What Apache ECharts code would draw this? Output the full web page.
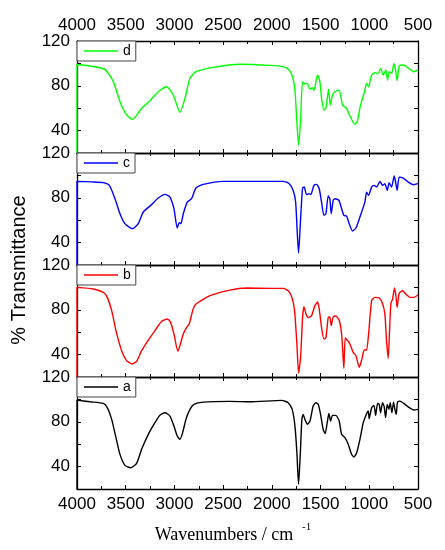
<!DOCTYPE html>
<html>
<head>
<meta charset="utf-8">
<script src="https://cdn.jsdelivr.net/npm/echarts@6/dist/echarts.min.js"></script>
<style>
  html, body { margin: 0; padding: 0; background: #fff; }
  #chart { width: 445px; height: 550px; }
</style>
</head>
<body>
<div id="chart"></div>
<script>
// spectra as [wavenumber, %T]
const specD = [[4000,20],[4000,99],[3850,97.5],[3713,94.7],[3627,83.7],[3559,65.8],[3490,54],[3429,50],[3336,59.9],[3251,66.7],[3166,74.7],[3080,79.2],[3012,71.8],[2943,56.3],[2892,68.8],[2841,86.7],[2779,92.6],[2601,96.5],[2328,99.2],[2020,98.2],[1883,97.1],[1822,94.1],[1787,88.1],[1763,76],[1745,50],[1726,27],[1705,49.5],[1685,83.7],[1661,81.6],[1637,82.2],[1609,76.9],[1586,78.3],[1568,76],[1531,89.6],[1507,83.7],[1490,68.8],[1466,58.4],[1445,59.9],[1418,76.9],[1401,62.9],[1377,71.8],[1353,74.7],[1309,76],[1274,62.9],[1233,59.9],[1199,53],[1148,45.6],[1124,48],[1089,62.9],[1045,76],[1028,82.2],[1007,79.2],[976,89.6],[942,91.7],[908,91.1],[884,95.6],[857,89.6],[830,94.1],[812,85.2],[796,92.6],[771,91.1],[747,100],[730,94.1],[714,84.6],[693,97.7],[652,98.6],[583,94.7],[549,92.6],[500,94.1]];

const specC = [[4000,20],[4000,94.7],[3850,94.2],[3730,93.5],[3668,91.1],[3610,79.2],[3559,65.8],[3508,56.9],[3433,52.4],[3371,56.9],[3320,67.3],[3234,73.9],[3166,79.8],[3097,83.1],[3046,80.7],[3005,70.3],[2971,53],[2950,57.8],[2933,56.9],[2909,65.8],[2868,76.2],[2824,79.2],[2779,88.7],[2704,92],[2499,94.7],[2225,94.7],[1883,94.7],[1822,92.6],[1781,86.6],[1756,76.2],[1740,50],[1726,30.7],[1705,61.4],[1685,88.7],[1668,89.6],[1644,82.8],[1617,83.7],[1600,82.8],[1568,91.1],[1541,92],[1514,88.1],[1490,76.2],[1466,64.3],[1445,65.8],[1422,81.6],[1405,79.2],[1391,65.8],[1370,77.8],[1353,79.2],[1312,77.8],[1284,70.3],[1261,64.3],[1233,63.7],[1206,56.9],[1172,50.3],[1137,53],[1096,62.9],[1045,76.2],[1028,85.1],[1007,82.2],[976,89.6],[952,91.1],[925,89.6],[891,94.7],[864,91.1],[840,92.6],[816,86.6],[796,93.5],[771,89.6],[744,99.4],[730,94.1],[714,86.6],[693,98.5],[652,97.6],[601,94.1],[549,91.7],[500,92.6]];

const specB = [[4000,20],[4000,100],[3833,98.6],[3730,95.6],[3689,91.1],[3644,79.2],[3600,61.4],[3542,43.5],[3491,34.6],[3433,31.6],[3388,34],[3337,43.5],[3268,53],[3200,61.4],[3131,69.7],[3073,71.8],[3039,68.8],[3005,58.4],[2964,42.9],[2943,48],[2909,58.4],[2875,64.3],[2848,67.3],[2813,79.2],[2779,85.1],[2636,92.6],[2430,97.6],[2259,99.4],[2020,99.1],[1883,99.1],[1832,97],[1794,91.1],[1767,79.2],[1743,49.5],[1726,23.6],[1705,37.5],[1685,73],[1671,82.8],[1650,76.2],[1627,73],[1593,74.7],[1558,83.7],[1531,86.9],[1514,80.9],[1490,64.3],[1466,53.9],[1445,54.9],[1422,73],[1405,73.6],[1391,65.8],[1370,73.6],[1343,74.4],[1309,70.6],[1284,58.4],[1271,40.5],[1261,27.7],[1247,54.9],[1227,53],[1199,49.5],[1165,42],[1137,39],[1103,28.6],[1076,36],[1052,44.1],[1028,44.1],[1007,58.4],[976,88.1],[942,91.1],[898,90.5],[864,85.7],[840,76.2],[823,52.4],[806,36.6],[792,61.4],[778,85.7],[761,89.6],[741,99.4],[727,92.6],[714,82.2],[693,94.7],[659,97],[625,94.1],[583,91.1],[542,91.1],[500,93.2]];

const specA = [[4000,20],[4000,99.4],[3867,97.9],[3730,96.4],[3689,92.6],[3644,82.2],[3600,65.8],[3559,50.9],[3508,41.1],[3449,39],[3388,42.9],[3337,55.4],[3268,68.8],[3200,79.2],[3149,85.8],[3097,88.1],[3046,85.1],[3005,76.2],[2971,67.3],[2943,64.3],[2916,70.3],[2882,82.2],[2841,91.1],[2800,95.6],[2704,97.6],[2430,98.2],[2225,97.9],[1900,99.1],[1832,97],[1791,91.1],[1763,76.2],[1743,52.4],[1726,24.2],[1709,49.5],[1692,82.2],[1678,86.6],[1661,82.2],[1637,77.8],[1609,80.7],[1576,94.1],[1548,97],[1524,95.6],[1500,86.6],[1473,73],[1452,69.5],[1432,79.2],[1415,87.5],[1398,80.7],[1377,85.7],[1343,85.7],[1309,80.7],[1284,68.8],[1250,65.8],[1216,59.9],[1182,51],[1158,48.6],[1131,51.9],[1096,64.3],[1062,79.2],[1035,85.7],[1011,89.6],[1001,82.8],[976,92.6],[952,94.7],[935,85.7],[915,96.4],[898,95.6],[884,88.1],[864,97],[847,93.5],[833,83.7],[816,95.6],[799,91.1],[785,97],[768,88.1],[751,97.6],[737,91.1],[724,86.6],[710,97.6],[686,98.5],[645,96.4],[590,92.6],[542,90.5],[500,91.1]];

// top to bottom
const panelNames = ['d', 'c', 'b', 'a'];
const panelColors = ['#00ff00', '#0000ff', '#ff0000', '#000000'];
const panelData = [specD, specC, specB, specA];
const yLabels = [40, 80, 120];

const chart = echarts.init(document.getElementById('chart'), null, { renderer: 'canvas' });

const FONT = '"Liberation Sans", Arial, sans-serif';
const SERIF = '"Liberation Serif", "Times New Roman", serif';
const LEFT = 77, WIDTH = 341, TOP = 41, H = 112;

const axisLine = { show: true, lineStyle: { color: '#000', width: 1.3 } };

let grids = [], xAxes = [], yAxes = [], series = [], legends = [];

panelNames.forEach((nm, i) => {
	const top = TOP + i * H;
	grids.push({ left: LEFT, top: top, width: WIDTH, height: H });

	// bottom + top x axis for each panel
	['bottom', 'top'].forEach(pos => {
		const showLab = (pos === 'bottom' && i === 3) || (pos === 'top' && i === 0);
		xAxes.push({
			type: 'value',
			gridIndex: i,
			position: pos,
			inverse: true,
			min: 500,
			max: 4000,
			interval: 500,
			axisLine: axisLine,
			axisTick: { show: true, inside: true, length: 4, lineStyle: { color: '#000', width: 1 } },
			minorTick: { show: true, splitNumber: 2, length: 3, lineStyle: { color: '#000', width: 1 } },
			axisLabel: { show: showLab, fontFamily: FONT, fontSize: 17, color: '#000', margin: 7, formatter: v => String(v) },
			splitLine: { show: false },
			minorSplitLine: { show: false }
		});
	});

	['left', 'right'].forEach(pos => {
		yAxes.push({
			type: 'value',
			gridIndex: i,
			position: pos,
			min: 20,
			max: 120,
			interval: 20,
			axisLine: axisLine,
			axisTick: { show: true, inside: true, length: 4, lineStyle: { color: '#000', width: 1 } },
			axisLabel: {
				show: pos === 'left',
				fontFamily: FONT, fontSize: 17, color: '#000', margin: 7,
				formatter: v => (yLabels.indexOf(v) >= 0 ? String(v) : '')
			},
			splitLine: { show: false }
		});
	});

	series.push({
		name: nm,
		type: 'line',
		xAxisIndex: i * 2,
		yAxisIndex: i * 2,
		data: panelData[i],
		symbol: 'none',
		smooth: 0.2,
		clip: true,
		lineStyle: { color: panelColors[i], width: 1.4 },
		itemStyle: { color: panelColors[i] },
		z: 1
	});

	legends.push({
		data: [nm],
		left: LEFT,
		top: top,
		orient: 'horizontal',
		icon: 'rect',
		itemWidth: 34,
		itemHeight: 1.6,
		padding: [3, 5, 3, 7],
		borderColor: '#444',
		borderWidth: 1,
		backgroundColor: '#fff',
		selectedMode: false,
		textStyle: { fontFamily: FONT, fontSize: 14, color: '#000' }
	});
});

chart.setOption({
	animation: false,
	backgroundColor: '#fff',
	grid: grids,
	xAxis: xAxes,
	yAxis: yAxes,
	legend: legends,
	series: series,
	graphic: [
		{
			type: 'text',
			x: 19, y: 270,
			rotation: Math.PI / 2,
			style: { text: '% Transmittance', fontFamily: FONT, fontSize: 20, fill: '#000', align: 'center', verticalAlign: 'middle' }
		},
		{
			type: 'text',
			x: 224, y: 535,
			style: { text: 'Wavenumbers / cm', fontFamily: SERIF, fontSize: 18, fill: '#000', align: 'center', verticalAlign: 'middle' }
		},
		{
			type: 'text',
			x: 302, y: 527,
			style: { text: '-1', fontFamily: SERIF, fontSize: 11, fill: '#000', align: 'left', verticalAlign: 'middle' }
		}
	]
});
</script>
</body>
</html>
